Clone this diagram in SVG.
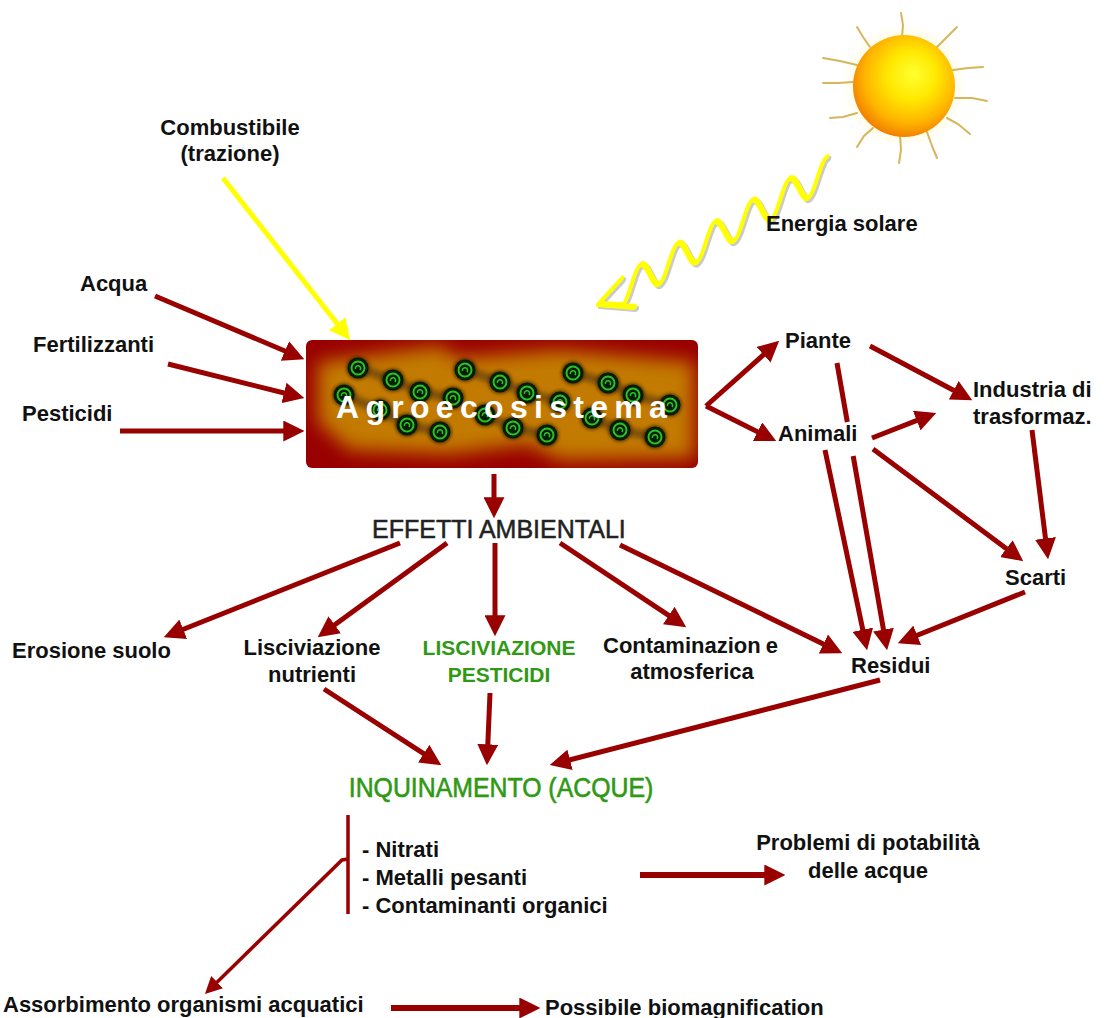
<svg xmlns="http://www.w3.org/2000/svg" xmlns:xlink="http://www.w3.org/1999/xlink" width="1104" height="1018" viewBox="0 0 1104 1018">
  <style>
    .lbl { font-family: "Liberation Sans", Arial, sans-serif; font-weight: bold; font-size: 22px; fill: #111; }
    .green { font-family: "Liberation Sans", Arial, sans-serif; font-weight: bold; font-size: 21px; fill: #2f9914; }
    .head { font-family: "Liberation Sans", Arial, sans-serif; font-size: 25px; fill: #222; stroke: #222; stroke-width: 0.5; }
    .inq { font-family: "Liberation Sans", Arial, sans-serif; font-size: 27px; fill: #2f9914; stroke: #2f9914; stroke-width: 0.6; }
    .mid { text-anchor: middle; }
    .red { fill: none; stroke: #990000; stroke-width: 5; marker-end: url(#ah); }
    .red-thin { fill: none; stroke: #990000; stroke-width: 3.5; }
    .red-thick { fill: none; stroke: #990000; stroke-width: 6; marker-end: url(#ah); }
    .ray { fill: none; stroke: #cfa840; stroke-width: 2; stroke-linecap: round; opacity: 0.85; }
  </style>
  <defs>
    <marker id="ah" viewBox="0 0 20 20" refX="14" refY="10" markerWidth="21" markerHeight="21" markerUnits="userSpaceOnUse" orient="auto">
      <path d="M0,0 L20,10 L0,20 z" fill="#990000"/>
    </marker>
    <marker id="ah-s" viewBox="0 0 20 20" refX="14" refY="10" markerWidth="17" markerHeight="17" markerUnits="userSpaceOnUse" orient="auto">
      <path d="M0,0 L20,10 L0,20 z" fill="#990000"/>
    </marker>
    <marker id="ay" viewBox="0 0 20 20" refX="14" refY="10" markerWidth="21" markerHeight="21" markerUnits="userSpaceOnUse" orient="auto">
      <path d="M0,0 L20,10 L0,20 z" fill="#ffff00"/>
    </marker>
    <radialGradient id="sunFill" cx="55%" cy="42%" r="60%" fx="60%" fy="38%">
      <stop offset="0" stop-color="#ffff30"/>
      <stop offset="0.4" stop-color="#ffe800"/>
      <stop offset="0.75" stop-color="#ffb400"/>
      <stop offset="1" stop-color="#f07c00"/>
    </radialGradient>
    <radialGradient id="sunHalo" cx="50%" cy="50%" r="50%">
      <stop offset="0.6" stop-color="#fff4a0" stop-opacity="0.7"/>
      <stop offset="1" stop-color="#fffbe0" stop-opacity="0"/>
    </radialGradient>
    <clipPath id="boxClip">
      <rect x="306" y="340" width="392" height="128" rx="6"/>
    </clipPath>
    <filter id="soft" x="-20%" y="-40%" width="140%" height="180%">
      <feGaussianBlur stdDeviation="9"/>
    </filter>
    <filter id="soft2" x="-10%" y="-30%" width="120%" height="160%">
      <feGaussianBlur stdDeviation="2.5"/>
    </filter>
    <filter id="shade" x="-50%" y="-50%" width="200%" height="200%">
      <feGaussianBlur stdDeviation="1.5"/>
    </filter>
    <!-- wavy solar ray, drawn along its own axis; oscillation is vertical on the page -->
    <path id="wave" d="M0,15 C8,15 14,-15 21.5,-15 S35,15 43,15 S56.5,-15 64.5,-15 S78,15 86,15 S99.5,-15 107.5,-15 S121,15 129,15 S142.5,-15 150.5,-15 S164,15 172,15 S185.5,-15 193.5,-15 S207,15 215,15 S228.5,-15 236.5,-15 L264,0 M237,12 L264,0 L222,-24"/>
    <!-- green bud used on the agroecosystem tile -->
    <g id="bud">
      <circle r="12" fill="#2a1a00" opacity="0.6" filter="url(#shade)"/>
      <circle r="10.5" fill="#061c04"/>
      <circle r="6.5" fill="none" stroke="#27c427" stroke-width="2"/>
      <path d="M-2.5,1 A2.6,2.6 0 1 1 2,2" fill="none" stroke="#27c427" stroke-width="1.6"/>
    </g>
  </defs>

  <rect width="1104" height="1018" fill="#ffffff"/>

  <!-- sun -->
  <g id="sun">
    <circle cx="904" cy="86" r="64" fill="url(#sunHalo)"/>
    <path class="ray" d="M902,37 L903,25 L901,13"/>
    <path class="ray" d="M937,47 L946,38 L957,27"/>
    <path class="ray" d="M953,70 L968,68 L983,67"/>
    <path class="ray" d="M955,98 L972,98 L987,101"/>
    <path class="ray" d="M947,118 L958,124 L970,134"/>
    <path class="ray" d="M927,132 L932,146 L937,158"/>
    <path class="ray" d="M900,135 L901,150 L899,163"/>
    <path class="ray" d="M873,128 L864,136 L857,147"/>
    <path class="ray" d="M857,113 L843,117 L830,118"/>
    <path class="ray" d="M853,82 L838,83 L823,83"/>
    <path class="ray" d="M857,65 L840,61 L823,58"/>
    <path class="ray" d="M870,47 L863,37 L857,27"/>
    <circle cx="904" cy="86" r="51" fill="url(#sunFill)"/>
  </g>

  <!-- solar energy wave -->
  <g id="solar-wave" fill="none" stroke-linecap="round" stroke-linejoin="round" stroke-width="5.5">
    <g transform="translate(2,2)">
      <use xlink:href="#wave" transform="matrix(-0.866,0.5,0,-1,827,172)" stroke="#8a8a8a" opacity="0.45"/>
    </g>
    <use xlink:href="#wave" transform="matrix(-0.866,0.5,0,-1,827,172)" stroke="#ffff00"/>
  </g>

  <!-- connectors -->
  <g id="connectors">
    <path id="c-combustibile" d="M223,178 L346.3,335.3" fill="none" stroke="#ffff00" stroke-width="5" marker-end="url(#ay)"/>
    <path id="c-acqua" class="red" d="M155,296 L298.5,356.7"/>
    <path id="c-fertilizzanti" class="red" d="M168,364 L298.2,396.5"/>
    <path id="c-pesticidi" class="red" d="M120,431 L298,431"/>
    <path id="c-effetti" class="red" d="M494,474 L494,512"/>
    <path id="c-erosione" class="red" d="M400,543 L169.6,634.8"/>
    <path id="c-lisc-nutr" class="red" d="M447,543 L322.8,633.5"/>
    <path id="c-lisc-pest" class="red" d="M495,543 L495,630"/>
    <path id="c-contam" class="red" d="M560,543 L681,623.7"/>
    <path id="c-eff-residui" class="red" d="M620,545 L836.6,650.4"/>
    <path id="c-piante" class="red" d="M706,406 L774.5,345"/>
    <path id="c-animali" class="red" d="M706,406 L770.6,438.3"/>
    <path id="c-piante-ind" class="red" d="M870,346 L966.7,397.2"/>
    <path id="c-piante-res" class="red" d="M837,363 L847.3,422 M853.2,456 L886,644.1"/>
    <path id="c-animali-res" class="red" d="M825,450 L865.8,644.1"/>
    <path id="c-animali-ind" class="red" d="M872,438 L930.4,415.2"/>
    <path id="c-animali-scarti" class="red" d="M873,449 L1018.2,557.4"/>
    <path id="c-ind-scarti" class="red" d="M1032,430 L1047.3,553"/>
    <path id="c-scarti-res" class="red" d="M1025,592 L903.6,640.8"/>
    <path id="c-nutr-inq" class="red" d="M324,689 L436,761.7"/>
    <path id="c-pest-inq" class="red" d="M490,693 L487.2,759"/>
    <path id="c-res-inq" class="red" d="M880,680 L555.8,763.5"/>
    <path id="c-list-bar" class="red-thin" d="M348,815 L348,914"/>
    <path id="c-assorb" class="red-thin" d="M348,859 L342,860 L208.6,990.4" marker-end="url(#ah-s)"/>
    <path id="c-potab" class="red-thick" d="M640,875 L779,875"/>
    <path id="c-biomag" class="red-thick" d="M391,1008 L534,1008"/>
  </g>

  <!-- central agroecosystem tile -->
  <g id="agroecosistema">
    <rect x="306" y="340" width="392" height="128" rx="6" fill="#990000"/>
    <g clip-path="url(#boxClip)">
      <path d="M318,362 L440,346 L458,358 L560,350 L694,362 L694,458 L560,460 L528,444 L450,454 L350,450 L318,422 z" fill="#c27a06" filter="url(#soft)"/>
      <g fill="none" stroke="#6a4208" stroke-width="9" stroke-linecap="round" opacity="0.75" filter="url(#soft2)">
        <path d="M358,368 L393,380 L420,392 L453,398"/>
        <path d="M344,395 L380,410 L407,425 L440,432"/>
        <path d="M465,370 L500,382 L527,393 L560,402"/>
        <path d="M485,415 L513,428 L547,435"/>
        <path d="M573,373 L608,383 L633,395 L670,405"/>
        <path d="M592,418 L620,430 L655,437"/>
      </g>
      <use xlink:href="#bud" x="358" y="368"/>
      <use xlink:href="#bud" x="393" y="380"/>
      <use xlink:href="#bud" x="420" y="392"/>
      <use xlink:href="#bud" x="344" y="395"/>
      <use xlink:href="#bud" x="453" y="398"/>
      <use xlink:href="#bud" x="380" y="410"/>
      <use xlink:href="#bud" x="407" y="425"/>
      <use xlink:href="#bud" x="440" y="432"/>
      <use xlink:href="#bud" x="465" y="370"/>
      <use xlink:href="#bud" x="500" y="382"/>
      <use xlink:href="#bud" x="527" y="393"/>
      <use xlink:href="#bud" x="560" y="402"/>
      <use xlink:href="#bud" x="485" y="415"/>
      <use xlink:href="#bud" x="513" y="428"/>
      <use xlink:href="#bud" x="547" y="435"/>
      <use xlink:href="#bud" x="573" y="373"/>
      <use xlink:href="#bud" x="608" y="383"/>
      <use xlink:href="#bud" x="633" y="395"/>
      <use xlink:href="#bud" x="670" y="405"/>
      <use xlink:href="#bud" x="592" y="418"/>
      <use xlink:href="#bud" x="620" y="430"/>
      <use xlink:href="#bud" x="655" y="437"/>
    </g>
    <text x="336" y="418" font-family="Liberation Sans, Arial, sans-serif" font-weight="bold" font-size="32" letter-spacing="6.3" fill="#ffffff">Agroecosistema</text>
  </g>

  <!-- inputs -->
  <g id="combustibile">
    <text class="lbl mid" x="230" y="135">Combustibile</text>
    <text class="lbl mid" x="230" y="161">(trazione)</text>
  </g>
  <g id="energia-solare"><text class="lbl" x="766" y="231">Energia solare</text></g>
  <g id="acqua"><text class="lbl" x="80" y="291">Acqua</text></g>
  <g id="fertilizzanti"><text class="lbl" x="33" y="352">Fertilizzanti</text></g>
  <g id="pesticidi"><text class="lbl" x="22" y="421">Pesticidi</text></g>

  <!-- outputs of the agroecosystem -->
  <g id="piante"><text class="lbl" x="785" y="348">Piante</text></g>
  <g id="animali"><text class="lbl" x="778" y="441">Animali</text></g>
  <g id="industria">
    <text class="lbl" x="973" y="397">Industria di</text>
    <text class="lbl" x="973" y="424">trasformaz.</text>
  </g>
  <g id="scarti"><text class="lbl" x="1005" y="585">Scarti</text></g>
  <g id="residui"><text class="lbl" x="851" y="673">Residui</text></g>

  <!-- environmental effects -->
  <g id="effetti-ambientali"><text class="head" x="372" y="538">EFFETTI AMBIENTALI</text></g>
  <g id="erosione-suolo"><text class="lbl" x="12" y="658">Erosione suolo</text></g>
  <g id="lisciviazione-nutrienti">
    <text class="lbl mid" x="312" y="655">Lisciviazione</text>
    <text class="lbl mid" x="312" y="682">nutrienti</text>
  </g>
  <g id="lisciviazione-pesticidi">
    <text class="green mid" x="499" y="655">LISCIVIAZIONE</text>
    <text class="green mid" x="499" y="682">PESTICIDI</text>
  </g>
  <g id="contaminazione-atmosferica">
    <text class="lbl" x="603" y="653">Contaminazion<tspan dx="5">e</tspan></text>
    <text class="lbl mid" x="692" y="679">atmosferica</text>
  </g>

  <!-- water pollution -->
  <g id="inquinamento"><text class="inq mid" transform="translate(501,797) scale(0.92,1)">INQUINAMENTO (ACQUE)</text></g>
  <g id="inquinanti">
    <text class="lbl" x="362" y="857">- Nitrati</text>
    <text class="lbl" x="362" y="885">- Metalli pesanti</text>
    <text class="lbl" x="362" y="913">- Contaminanti organici</text>
  </g>
  <g id="potabilita">
    <text class="lbl mid" x="868" y="850">Problemi di potabilità</text>
    <text class="lbl mid" x="868" y="878">delle acque</text>
  </g>
  <g id="assorbimento"><text class="lbl" x="3" y="1012">Assorbimento organismi acquatici</text></g>
  <g id="biomagnification"><text class="lbl" x="545" y="1015">Possibile biomagnification</text></g>
</svg>
